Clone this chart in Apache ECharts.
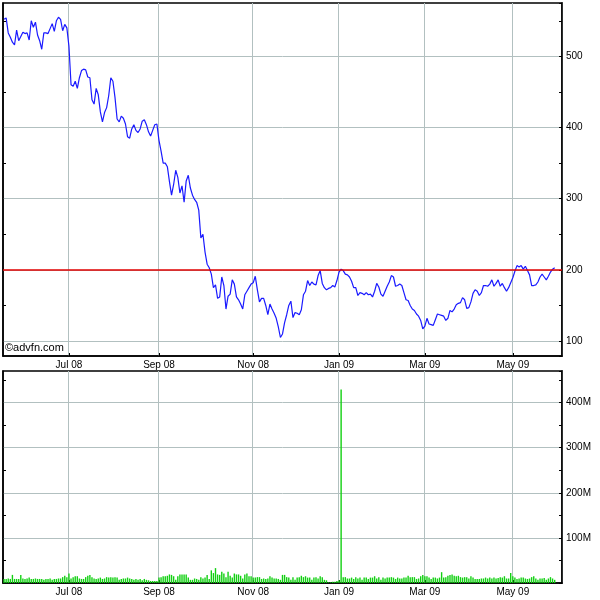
<!DOCTYPE html>
<html style="height: 100%">
<head>
    <meta charset="utf-8">
    <style>
        body { margin: 0; background: #fff; }
        #container { width: 600px; height: 600px; }
    </style>
</head>
<body>
<div id="container"></div>
<script src="https://cdn.jsdelivr.net/npm/echarts@6/dist/echarts.min.js"></script>
<script type="text/javascript">
    // trading calendar
    var startDate = '2008-05-16';
    var holidays = ['2008-05-26', '2008-08-25', '2008-12-25', '2008-12-26', '2009-01-01',
        '2009-04-10', '2009-04-13', '2009-05-04', '2009-05-25'];
    var trailingDays = 3;
    var monthNames = ['Jan', 'Feb', 'Mar', 'Apr', 'May', 'Jun', 'Jul', 'Aug', 'Sep', 'Oct', 'Nov', 'Dec'];

    // closing price
    var price = [
        552, 554, 533, 527, 520, 516, 537, 522, 528, 534,
        532, 533, 523, 550, 541, 548, 530, 522, 510, 533,
        533, 532, 539, 546, 535, 550, 555, 552, 536, 545,
        540, 514, 460, 458, 465, 455, 470, 480, 482, 481,
        471, 470, 439, 433, 455, 446, 422, 408, 421, 428,
        445, 470, 465, 442, 412, 408, 416, 413, 405, 387,
        385, 398, 404, 396, 393, 398, 409, 411, 404, 394,
        388, 396, 404, 405, 382, 367, 350, 350, 345, 324,
        305, 320, 340, 330, 308, 318, 295, 325, 333, 315,
        305, 299, 295, 284, 245, 250, 225, 208, 203, 194,
        175, 179, 160, 162, 190, 178, 145, 163, 166, 186,
        180, 162, 158, 152, 145, 165, 170, 175, 180, 182,
        191, 172, 155, 160, 160, 150, 137, 152, 145, 139,
        132, 120, 105, 110, 126, 137, 150, 156, 133, 140,
        139, 137, 144, 165, 170, 185, 178, 183, 180, 179,
        192, 199, 181, 175, 172, 174, 175, 178, 176, 185,
        197, 201, 199, 194, 193, 190, 184, 175, 175, 164,
        168, 167, 165, 168, 165, 166, 162, 170, 181, 176,
        166, 163, 170, 177, 183, 192, 190, 177, 178, 180,
        178, 168, 158, 157, 150, 145, 143, 138, 135, 129,
        117, 121, 132, 124, 123, 122, 130, 138, 137, 136,
        135, 129, 132, 143, 141, 145, 151, 153, 154, 161,
        158, 146, 147, 155, 167, 172, 170, 164, 168, 178,
        178, 177, 180, 186, 177, 181, 186, 177, 181, 175,
        170, 175, 182, 189, 198, 206, 204, 206, 201, 205,
        199, 193, 178, 178, 179, 183, 190, 194, 190, 186,
        191, 197, 201, 203
    ];

    // volume, millions
    var volume = [
        9, 9, 10, 9, 18, 9, 9, 9, 18, 10,
        9, 10, 12, 9, 9, 10, 9, 9, 9, 7,
        9, 9, 10, 7, 9, 9, 10, 10, 13, 16,
        13, 21, 10, 13, 15, 15, 10, 9, 9, 13,
        16, 18, 13, 10, 9, 10, 12, 9, 10, 13,
        12, 13, 12, 13, 12, 7, 9, 10, 10, 12,
        10, 9, 7, 9, 7, 9, 6, 9, 7, 6,
        4.5, 4.5, 4.5, 4.5, 12, 13, 15, 15, 16, 19,
        18, 15, 7, 15, 19, 19, 19, 19, 12, 7,
        7, 10, 9, 7, 13, 10, 12, 18, 9, 28,
        22, 33, 19, 18, 25, 21, 13, 25, 16, 12,
        21, 19, 19, 16, 10, 19, 21, 15, 15, 12,
        12, 13, 13, 9, 10, 9, 10, 15, 12, 10,
        10, 9, 7, 18, 18, 13, 12, 7, 13, 7,
        12, 13, 16, 13, 15, 12, 12, 7, 12, 13,
        10, 15, 13, 7, 6, 1.5, 1.5, 3, 3, 4.5,
        6, 429, 13, 13, 10, 10, 12, 9, 13, 10,
        12, 7, 12, 12, 9, 12, 12, 15, 10, 13,
        7, 12, 10, 12, 12, 13, 12, 9, 12, 10,
        10, 12, 12, 16, 13, 13, 13, 9, 10, 15,
        18, 15, 15, 12, 9, 12, 12, 10, 12, 24,
        12, 13, 16, 18, 19, 16, 15, 16, 13, 12,
        13, 13, 10, 15, 12, 9, 9, 9, 10, 10,
        12, 10, 12, 10, 12, 10, 11, 13, 12, 15,
        10, 10, 22, 15, 12, 9, 10, 12, 12, 10,
        9, 10, 13, 15, 10, 7, 10, 10, 11, 7,
        10, 13, 10, 7
    ];

    var refLevel = 200;

    function pad(n) { return n < 10 ? '0' + n : '' + n; }

    var dates = [];
    var d = new Date(startDate + 'T00:00:00Z');
    while (dates.length < price.length + trailingDays) {
        var s = d.getUTCFullYear() + '-' + pad(d.getUTCMonth() + 1) + '-' + pad(d.getUTCDate());
        var wd = d.getUTCDay();
        if (wd !== 0 && wd !== 6 && holidays.indexOf(s) < 0) dates.push(s);
        d.setUTCDate(d.getUTCDate() + 1);
    }

    // first trading day of Jan, Mar, May, Jul, Sep, Nov
    function isMark(index) {
        if (index === 0) return false;
        var m = +dates[index].slice(5, 7);
        var pm = +dates[index - 1].slice(5, 7);
        return m !== pm && m % 2 === 1;
    }
    function fmtDate(v) {
        return monthNames[+v.slice(5, 7) - 1] + ' ' + v.slice(2, 4);
    }

    var gridColor = '#b2c0c0';
    var fontBase = { color: '#000', fontSize: 10, fontFamily: 'Liberation Sans, Arial, sans-serif' };

    function xAxisFor(gi) {
        return {
            type: 'category',
            gridIndex: gi,
            data: dates,
            boundaryGap: true,
            axisLine: { show: true, lineStyle: { color: '#000', width: 1.5 } },
            axisTick: { show: true, inside: true, length: 3, alignWithLabel: true, interval: isMark,
                lineStyle: { color: '#000' } },
            axisLabel: Object.assign({ interval: isMark, margin: 4, formatter: fmtDate }, fontBase),
            splitLine: { show: true, interval: isMark, lineStyle: { color: gridColor, width: 1 } }
        };
    }

    var dom = document.getElementById('container');
    var myChart = echarts.init(dom, null, { renderer: 'canvas' });

    var option = {
        animation: false,
        backgroundColor: '#fff',
        title: {
            text: '\u00a9advfn.com',
            left: 5,
            top: 342,
            padding: 0,
            textStyle: { color: '#000', fontSize: 11, fontWeight: 'normal', fontFamily: 'Liberation Sans, Arial, sans-serif' }
        },
        grid: [
            { left: 3, right: 38, top: 3, height: 353, show: true, borderColor: '#000', borderWidth: 1.5,
                containLabel: false, outerBoundsMode: 'none' },
            { left: 3, right: 38, top: 371, height: 212, show: true, borderColor: '#000', borderWidth: 1.5,
                containLabel: false, outerBoundsMode: 'none' }
        ],
        xAxis: [xAxisFor(0), xAxisFor(1)],
        yAxis: [
            {
                type: 'value', gridIndex: 0, position: 'right',
                min: 79, max: 575, splitNumber: 5, scale: true,
                axisLine: { show: true, lineStyle: { color: '#000', width: 1.5 } },
                axisTick: { show: true, inside: true, length: 3, lineStyle: { color: '#000' } },
                minorTick: { show: true, splitNumber: 2, length: 3, lineStyle: { color: '#000' } },
                axisLabel: Object.assign({ margin: 4, showMinLabel: false, showMaxLabel: false }, fontBase),
                splitLine: { show: true, showMinLine: false, showMaxLine: false, lineStyle: { color: gridColor, width: 1 } }
            },
            {
                type: 'value', gridIndex: 0, position: 'left',
                min: 79, max: 575, splitNumber: 5, scale: true,
                axisLine: { show: true, lineStyle: { color: '#000', width: 1.5 } },
                axisTick: { show: false, inside: true },
                minorTick: { show: true, splitNumber: 2, length: 3, lineStyle: { color: '#000' } },
                axisLabel: { show: false },
                splitLine: { show: false }
            },
            {
                type: 'value', gridIndex: 1, position: 'right',
                min: 0, max: 470, interval: 100,
                axisLine: { show: true, lineStyle: { color: '#000', width: 1.5 } },
                axisTick: { show: true, inside: true, length: 3, lineStyle: { color: '#000' } },
                minorTick: { show: true, splitNumber: 2, length: 3, lineStyle: { color: '#000' } },
                axisLabel: Object.assign({ margin: 4, showMinLabel: false, showMaxLabel: false,
                    formatter: function (v) { return v + 'M'; } }, fontBase),
                splitLine: { show: true, showMinLine: false, showMaxLine: false, lineStyle: { color: gridColor, width: 1 } }
            },
            {
                type: 'value', gridIndex: 1, position: 'left',
                min: 0, max: 470, interval: 100,
                axisLine: { show: true, lineStyle: { color: '#000', width: 1.5 } },
                axisTick: { show: false, inside: true },
                minorTick: { show: true, splitNumber: 2, length: 3, lineStyle: { color: '#000' } },
                axisLabel: { show: false },
                splitLine: { show: false }
            }
        ],
        series: [
            {
                name: 'Price',
                type: 'line',
                xAxisIndex: 0,
                yAxisIndex: 0,
                data: price,
                symbol: 'none',
                lineStyle: { color: '#1a1aff', width: 1.2 },
                markLine: {
                    silent: true,
                    symbol: 'none',
                    label: { show: false },
                    lineStyle: { color: '#e00000', width: 1.5, type: 'solid' },
                    data: [{ yAxis: refLevel }]
                },
                z: 3
            },
            {
                name: 'Volume',
                type: 'bar',
                xAxisIndex: 1,
                yAxisIndex: 2,
                data: volume,
                barWidth: 1.4,
                itemStyle: { color: '#12d012' }
            }
        ]
    };

    myChart.setOption(option);
</script>
</body>
</html>
